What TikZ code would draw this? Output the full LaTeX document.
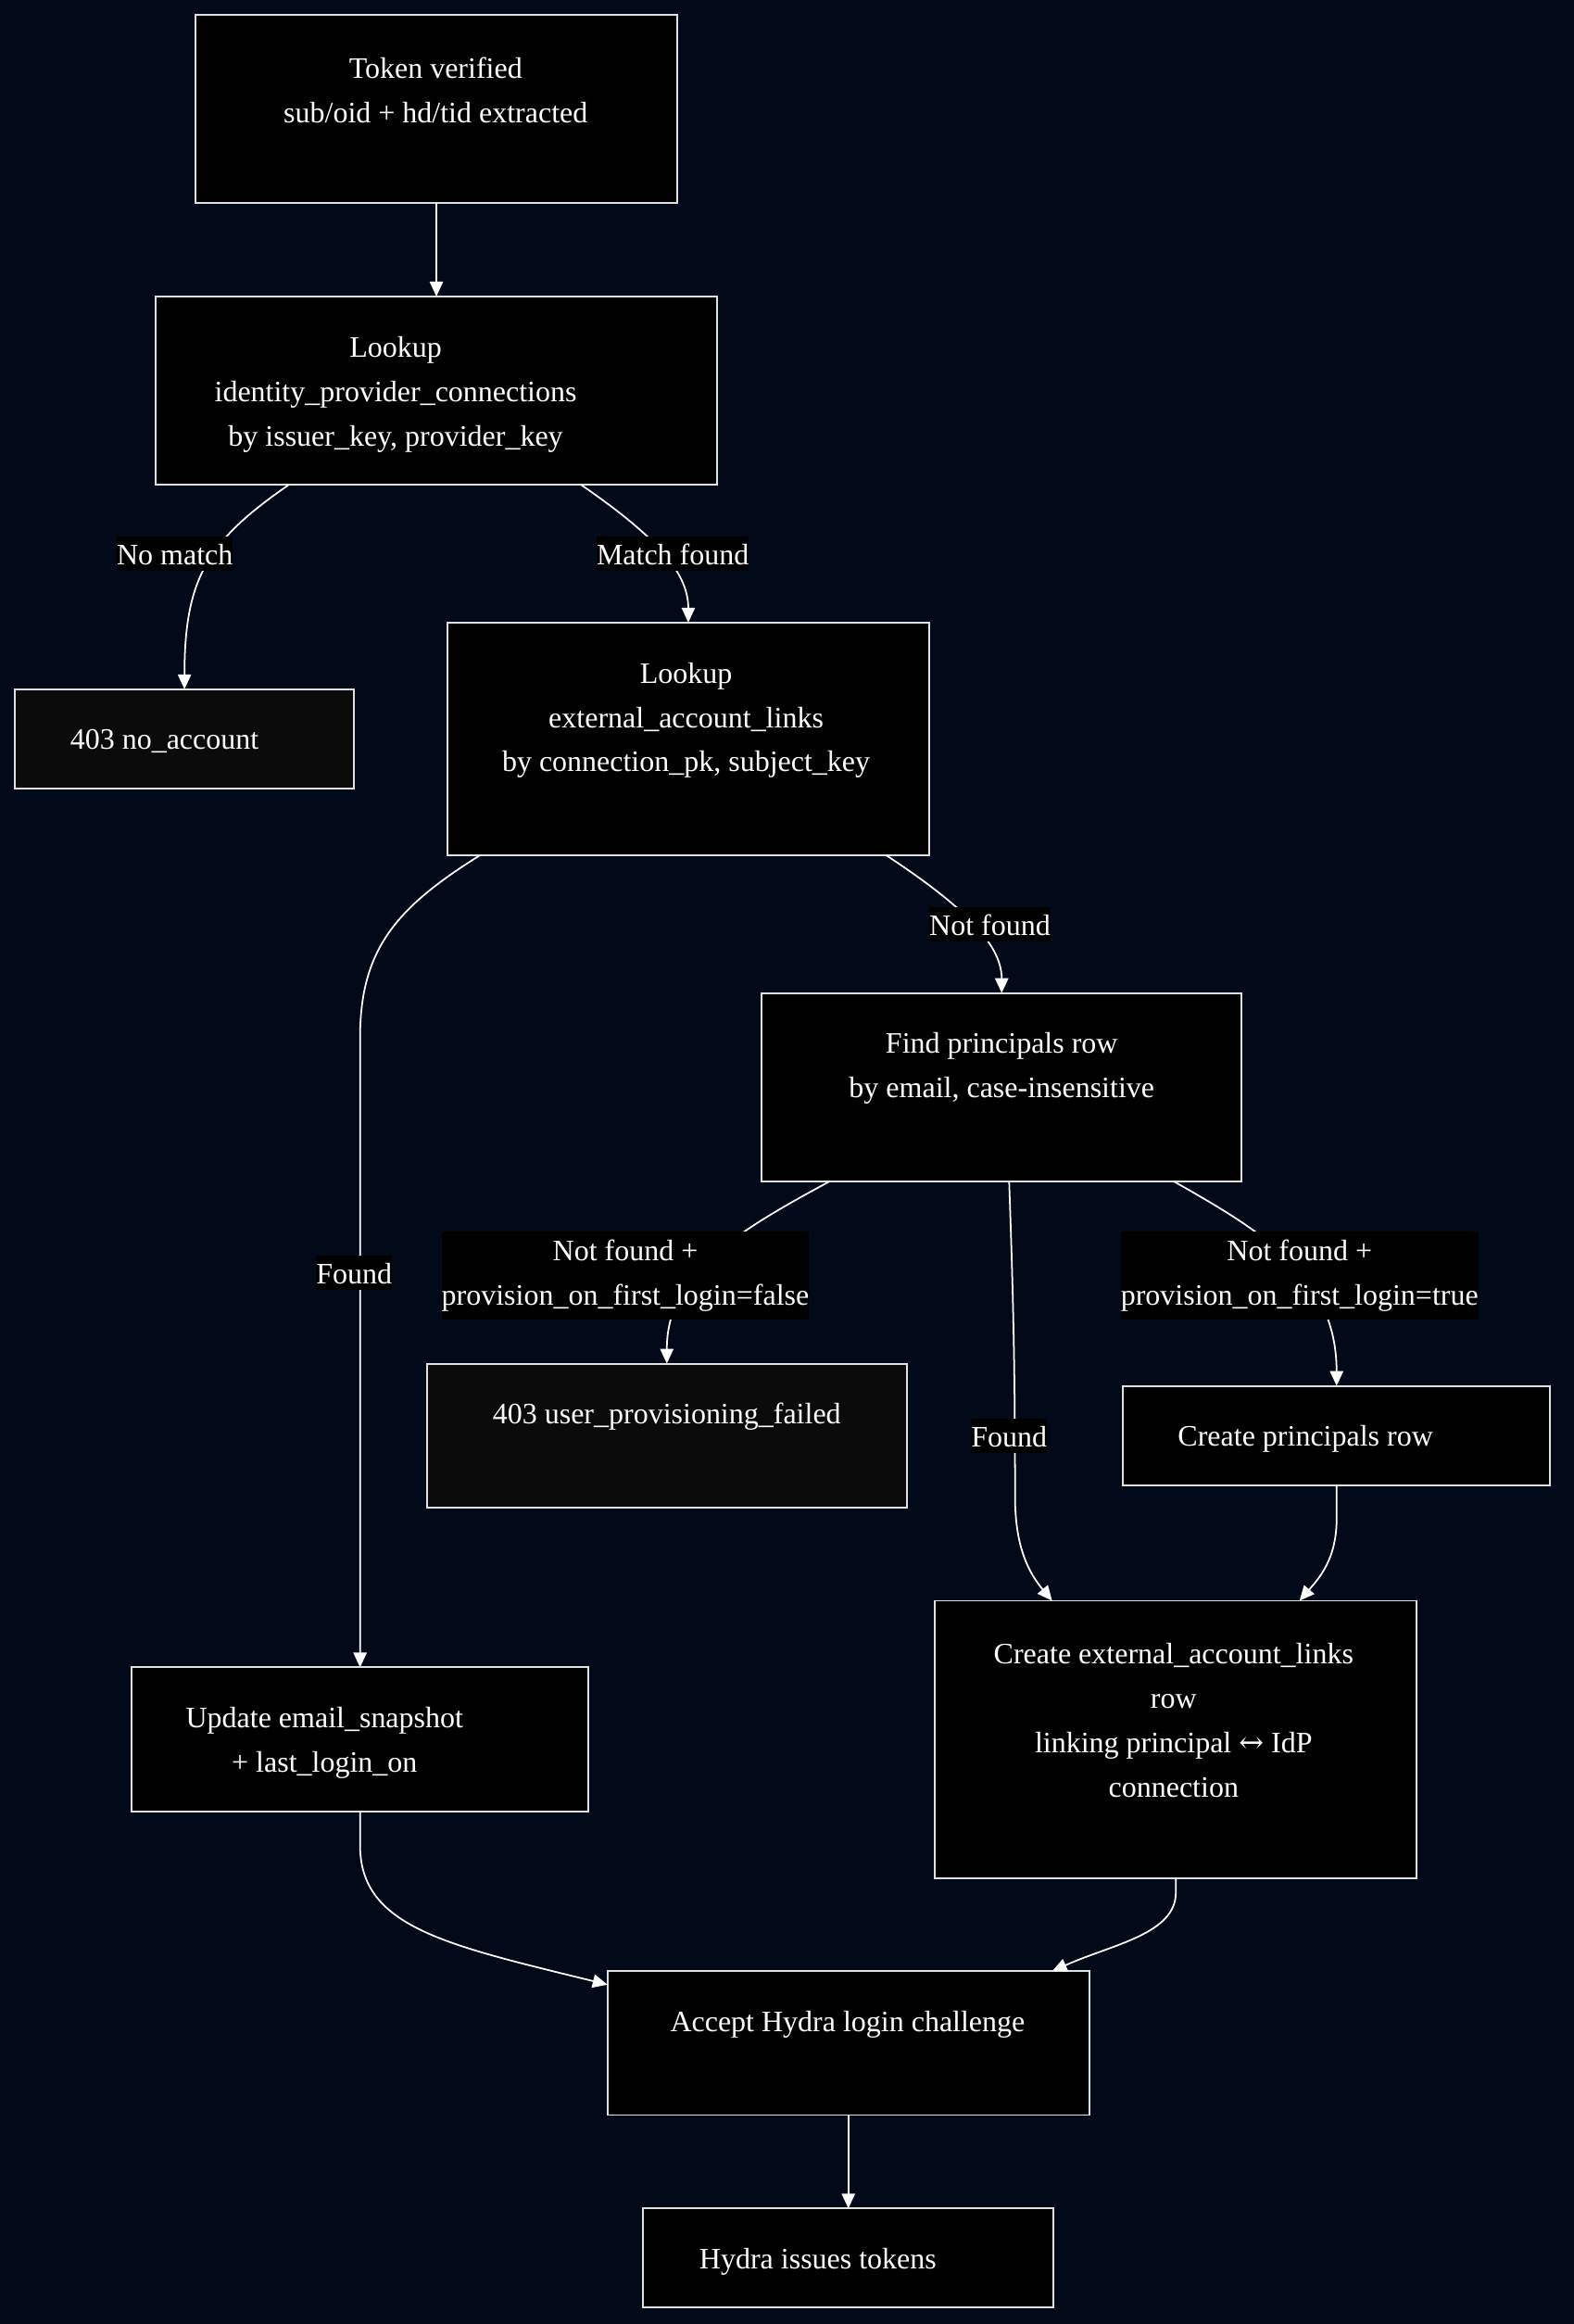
\documentclass[tikz,border=0pt]{standalone}
\usepackage{fontspec}
\setmainfont{Liberation Serif}
\newfontfamily\symfont{DejaVu Serif}
\usetikzlibrary{arrows.meta,calc}
\definecolor{bg}{HTML}{020A1A}
\definecolor{boxline}{HTML}{E0E0E0}
\definecolor{errfill}{HTML}{0B0B0B}
\tikzset{
 box/.style={draw=boxline, line width=1.2pt, fill=black, inner sep=0pt, outer sep=0pt, rectangle},
 errbox/.style={box, fill=errfill},
 txt/.style={text=white, font=\fontsize{20}{30}\selectfont, align=center, inner sep=0pt},
 txtone/.style={text=white, font=\fontsize{20}{30}\selectfont, inner sep=0pt, text height=14pt, text depth=5pt},
 lbl/.style={fill=black, text=white, font=\fontsize{20}{30}\selectfont, inner xsep=0pt, inner ysep=1pt, text height=18pt, text depth=3pt},
 lbltwo/.style={fill=black, text=white, font=\fontsize{20}{30}\selectfont, inner sep=0pt, align=center, minimum height=59pt},
 edge/.style={draw=white, line width=1.1pt, -{Triangle[length=10pt,width=9pt]}},
}
\begin{document}
\begin{tikzpicture}[x=1pt,y=-1pt]
\fill[bg] (0,0) rectangle (1062,1568);
\useasboundingbox (0,0) rectangle (1062,1568);

% boxes
\node[box, minimum width=325pt, minimum height=127pt] (T) at (294.5,73.5) {};
\node[box, minimum width=379pt, minimum height=127pt] (L1) at (294.5,263.5) {};
\node[errbox, minimum width=229pt, minimum height=67pt] (E1) at (124.5,498.5) {};
\node[box, minimum width=325pt, minimum height=157pt] (L2) at (464.5,498.5) {};
\node[box, minimum width=324pt, minimum height=127pt] (FP) at (676,733.5) {};
\node[errbox, minimum width=324pt, minimum height=97pt] (E2) at (450,968.5) {};
\node[box, minimum width=288pt, minimum height=67pt] (CP) at (902,968.5) {};
\node[box, minimum width=308pt, minimum height=97pt] (U) at (243,1173.5) {};
\node[box, minimum width=325pt, minimum height=187pt] (CE) at (793.5,1173.5) {};
\node[box, minimum width=325pt, minimum height=97pt] (A) at (572.5,1378.5) {};
\node[box, minimum width=277pt, minimum height=67pt] (H) at (572.5,1523.5) {};

% texts
\node[txt] (Tt) at (294,61) {Token verified\\sub/oid + hd/tid extracted};
\node[txt] (L1t) at (267,266) {Lookup\\identity\_provider\_connections\\by issuer\_key, provider\_key};
\node[txtone] (E1t) at (111,501) {403 no\_account};
\node[txt] (L2t) at (463,486) {Lookup\\external\_account\_links\\by connection\_pk, subject\_key};
\node[txt] (FPt) at (676,721) {Find principals row\\by email, case-insensitive};
\node[txtone] (E2t) at (450,956) {403 user\_provisioning\_failed};
\node[txtone] (CPt) at (881,971) {Create principals row};
\node[txt] (Ut) at (219,1176) {Update email\_snapshot\\+ last\_login\_on};
\node[txt] (CEt) at (792,1161) {Create external\_account\_links\\row\\linking principal {\symfont ↔} IdP\\connection};
\node[txtone] (At) at (572,1366) {Accept Hydra login challenge};
\node[txtone] (Ht) at (552,1526) {Hydra issues tokens};

% edges
\draw[edge] (T.south) -- (L1.north);
\draw[edge] ([xshift=-99.5pt]L1.south) .. controls (140,365) and (124.5,390) .. (E1.north);
\draw[edge] ([xshift=97.5pt]L1.south) .. controls (440,360) and (464.5,385) .. (L2.north);
\draw[edge] ([xshift=-140.5pt]L2.south) .. controls (268,612) and (243,640) .. (243,700) -- (U.north);
\draw[edge] ([xshift=133.5pt]L2.south) .. controls (645,608) and (676,635) .. (FP.north);
\draw[edge] ([xshift=-116pt]FP.south) .. controls (495,832) and (450,860) .. (E2.north);
\draw[edge] ([xshift=5pt]FP.south) .. controls (684,880) and (685,930) .. (685,1010) .. controls (685,1045) and (695,1062) .. ([xshift=-83.5pt]CE.north);
\draw[edge] ([xshift=116pt]FP.south) .. controls (850,830) and (902,860) .. (CP.north);
\draw[edge] (CP.south) -- (902,1025) .. controls (902,1052) and (890,1065) .. ([xshift=83.5pt]CE.north);
\draw[edge] (U.south) -- (243,1245) .. controls (243,1300) and (300,1312) .. ([yshift=-9pt]A.north west);
\draw[edge] (CE.south) -- (793.5,1277) .. controls (793.5,1305) and (750,1312) .. ([xshift=137.5pt]A.north);
\draw[edge] (A.south) -- (H.north);

% edge labels
\node[lbl] (lNoMatch) at (118,373.5) {No match};
\node[lbl] (lMatch) at (454,373.5) {Match found};
\node[lbl] (lNotFound) at (668,623.5) {Not found};
\node[lbl] (lFoundA) at (239,858.5) {Found};
\node[lbltwo] (lNFfalse) at (422,860.5) {Not found +\\provision\_on\_first\_login=false};
\node[lbl] (lFoundB) at (681,968.5) {Found};
\node[lbltwo] (lNFtrue) at (877,860.5) {Not found +\\provision\_on\_first\_login=true};
\end{tikzpicture}
\end{document}
